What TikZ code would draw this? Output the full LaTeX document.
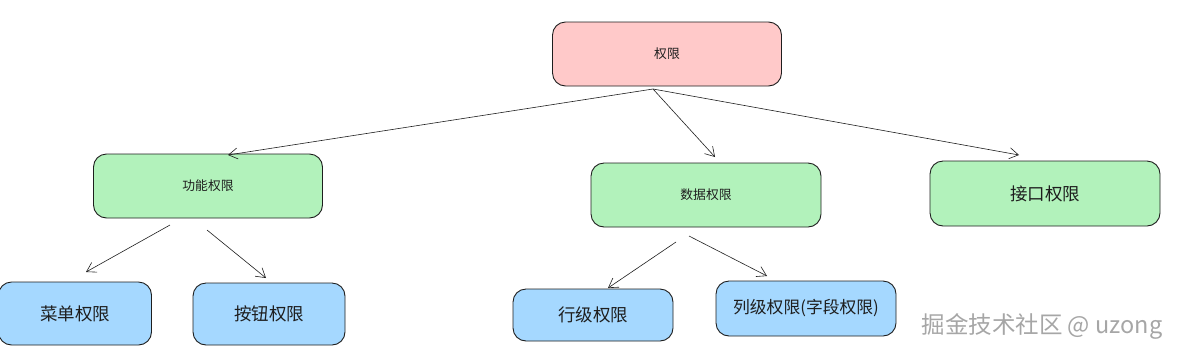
\documentclass[tikz,border=0pt]{standalone}
\usepackage{fontspec}
\newfontfamily\cjk{Noto Sans CJK SC}
\usetikzlibrary{arrows.meta}
\definecolor{pinkfill}{HTML}{FFC9C9}
\definecolor{greenfill}{HTML}{B2F2BB}
\definecolor{bluefill}{HTML}{A5D8FF}
\definecolor{inkline}{HTML}{1E1E1E}
\tikzset{
  box/.style={draw=inkline, line width=0.9pt, rounded corners=13pt, inner sep=0pt, font=\cjk, text=inkline},
  conn/.style={draw=inkline, line width=0.6pt, -{Straight Barb[length=9pt,width=11pt,line width=0.6pt]}},
}
\begin{document}
\begin{tikzpicture}[x=1pt,y=-1pt]
\useasboundingbox (0,0) rectangle (1185,357);
% nodes
\node[box, fill=pinkfill, minimum width=229pt, minimum height=64pt, font=\cjk\fontsize{12.8}{14}\selectfont] (root) at (667,54) {权限};
\node[box, fill=greenfill, minimum width=229pt, minimum height=64pt, font=\cjk\fontsize{12.8}{14}\selectfont] (func) at (208,186) {功能权限};
\node[box, fill=greenfill, minimum width=230pt, minimum height=64pt, font=\cjk\fontsize{12.8}{14}\selectfont] (data) at (706,195) {数据权限};
\node[box, fill=greenfill, minimum width=230pt, minimum height=65pt, font=\cjk\fontsize{17.5}{20}\selectfont] (api) at (1045,193.5) {接口权限};
\node[box, fill=bluefill, minimum width=153pt, minimum height=63pt, font=\cjk\fontsize{17.5}{20}\selectfont] (menu) at (75,313.5) {菜单权限};
\node[box, fill=bluefill, minimum width=152pt, minimum height=62pt, font=\cjk\fontsize{17.5}{20}\selectfont] (btn) at (269,314) {按钮权限};
\node[box, fill=bluefill, minimum width=160pt, minimum height=52pt, font=\cjk\fontsize{17.5}{20}\selectfont] (row) at (593,315) {行级权限};
\node[box, fill=bluefill, minimum width=180pt, minimum height=55pt, font=\cjk\fontsize{16.8}{20}\selectfont] (col) at (806,308.5) {列级权限(字段权限)};
\node[font=\cjk\fontsize{23.5}{26}\selectfont, text=gray!70, inner sep=0pt] (mark) at (1042,326) {掘金技术社区 @ uzong};
% connector end points
\coordinate (r0) at (653,89);
\coordinate (fIn) at (228,155);
\coordinate (dIn) at (715,157);
\coordinate (aIn) at (1019,155);
\coordinate (f1) at (170,225);
\coordinate (f2) at (207,230);
\coordinate (mIn) at (86,272);
\coordinate (bIn) at (266,278);
\coordinate (d1) at (676,242);
\coordinate (d2) at (689,236);
\coordinate (rIn) at (608,288);
\coordinate (cIn) at (767,276);
% connectors
\draw[conn] (r0) -- (fIn);
\draw[conn] (r0) -- (dIn);
\draw[conn] (r0) -- (aIn);
\draw[conn] (f1) -- (mIn);
\draw[conn] (f2) -- (bIn);
\draw[conn] (d1) -- (rIn);
\draw[conn] (d2) -- (cIn);
\end{tikzpicture}
\end{document}
